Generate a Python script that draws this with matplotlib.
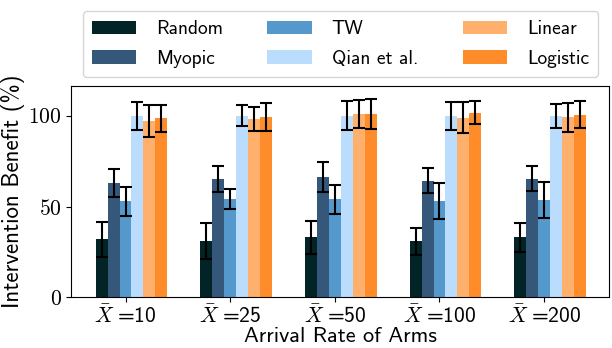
import numpy as np
import matplotlib
matplotlib.use("Agg")
import matplotlib.pyplot as plt
from matplotlib.ticker import FuncFormatter

plt.rcParams['font.family'] = ['cmss10', 'DejaVu Sans']
plt.rcParams['mathtext.fontset'] = 'cm'
plt.rcParams['axes.formatter.use_mathtext'] = True

rates = [10, 25, 50, 100, 200]
methods = ["Random", "Myopic", "TW", "Qian et al.", "Linear", "Logistic"]
colors = ["#022427", "#34577a", "#5598cb", "#bbddfd", "#feb06c", "#fe8c2b"]

# mean benefit per method (rows) for each arrival rate (columns)
means = [
    [31.9, 31.1, 33.0, 30.9, 33.1],
    [63.1, 65.2, 66.3, 64.1, 65.4],
    [53.0, 54.3, 54.0, 53.0, 53.4],
    [100.0, 100.0, 100.0, 100.0, 100.0],
    [97.2, 98.2, 101.0, 98.9, 99.3],
    [98.7, 99.3, 101.1, 101.7, 100.6],
]
errs = [
    [9.5, 9.8, 9.2, 7.4, 8.0],
    [7.8, 7.4, 8.4, 6.9, 6.9],
    [8.0, 5.4, 8.0, 9.8, 9.9],
    [7.6, 5.7, 8.0, 7.8, 6.5],
    [9.0, 6.6, 7.8, 8.5, 8.0],
    [7.5, 7.6, 8.4, 6.4, 7.5],
]

fig = plt.figure(figsize=(6.12, 3.48), dpi=100)
ax = fig.add_axes([0.1165, 0.1457, 0.879, 0.6072])

x = np.arange(len(rates))
w = 0.114
for j in range(len(methods)):
    ax.bar(x + (j - 2.5) * w, means[j], w, yerr=errs[j], color=colors[j],
           label=methods[j], capsize=4.3,
           error_kw=dict(elinewidth=1.5, capthick=1.5, ecolor="black"))

ax.set_xlim(-0.575, 4.565)
ax.set_ylim(0, 116.4)
ax.set_xticks(x - 0.5 * w)
ax.set_xticklabels([r"$\bar{X}\;$=%d" % r for r in rates], fontsize=15.5)
ax.set_yticks([0, 50, 100])
ax.yaxis.set_major_formatter(FuncFormatter(lambda v, p: r"$%d$" % v))
ax.tick_params(axis='y', labelsize=15.5)
ax.tick_params(axis='x', pad=2)
ax.set_xlabel("Arrival Rate of Arms", fontsize=16, labelpad=0)
ax.set_ylabel("Intervention Benefit (%)", fontsize=16.5, labelpad=2)

fig.legend(loc="upper center", bbox_to_anchor=(0.556, 0.995), ncol=3,
           fontsize=14, handlelength=2.3, handletextpad=1.0,
           columnspacing=2.3, labelspacing=0.6, borderpad=0.45)

fig.savefig("out.png", dpi=100)
